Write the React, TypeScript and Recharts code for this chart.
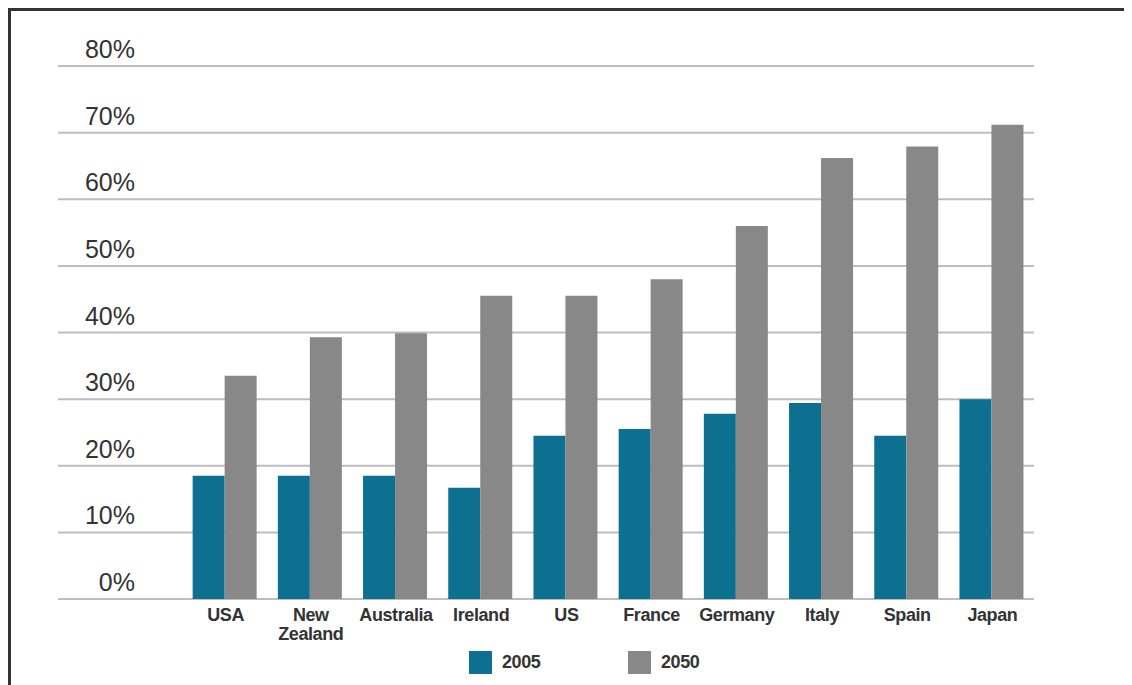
import { BarChart, Bar, XAxis, YAxis, CartesianGrid } from "recharts";

const countries = [
  "USA",
  "New Zealand",
  "Australia",
  "Ireland",
  "US",
  "France",
  "Germany",
  "Italy",
  "Spain",
  "Japan",
];
const values2005 = [18.5, 18.5, 18.5, 16.7, 24.5, 25.5, 27.8, 29.4, 24.5, 30.0];
const values2050 = [33.5, 39.3, 39.9, 45.5, 45.5, 48.0, 56.0, 66.2, 67.9, 71.2];
const yTicks = [0, 10, 20, 30, 40, 50, 60, 70, 80];

const TEAL = "#0d7090";
const GREY = "#888888";

const data = countries.map((c, i) => ({
  country: c,
  y2005: values2005[i],
  y2050: values2050[i],
}));

const YTick = (props: any) => {
  const { y, payload } = props;
  return (
    <text
      x={127}
      y={y - 8}
      textAnchor="end"
      fill="#333"
      fontSize={25}
      fontFamily="'Liberation Sans', Arial, sans-serif"
    >
      {payload.value}%
    </text>
  );
};

const XTick = (props: any) => {
  const { x, payload } = props;
  const label: string = payload.value;
  const lines = label.length > 10 ? label.split(" ") : [label];
  return (
    <text
      x={x + 1}
      y={591}
      textAnchor="middle"
      fill="#333"
      fontSize={18}
      fontWeight="bold"
      letterSpacing={-0.4}
      fontFamily="'Liberation Sans', Arial, sans-serif"
    >
      {lines.map((l, i) => (
        <tspan key={i} x={x + 1} dy={i === 0 ? 22 : 19}>
          {l}
        </tspan>
      ))}
    </text>
  );
};

const legendItems = [
  { name: "2005", color: TEAL, left: 461 },
  { name: "2050", color: GREY, left: 620 },
];

export default function App() {
  return (
    <div style={{ position: "relative", width: 1124, height: 677 }}>
      <BarChart
        width={1124}
        height={677}
        data={data}
        margin={{ top: 58, right: 98, bottom: 56, left: 0 }}
        barCategoryGap="12.5%"
        barGap={0}
      >
        <CartesianGrid vertical={false} stroke="#bdbdbd" strokeWidth={2} />
        <XAxis
          dataKey="country"
          height={30}
          axisLine={false}
          tickLine={false}
          interval={0}
          padding={{ left: 124, right: 0 }}
          tick={<XTick />}
        />
        <YAxis
          width={50}
          domain={[0, 80]}
          ticks={yTicks}
          axisLine={false}
          tickLine={false}
          tick={<YTick />}
        />
        <Bar dataKey="y2005" fill={TEAL} isAnimationActive={false} />
        <Bar dataKey="y2050" fill={GREY} isAnimationActive={false} />
      </BarChart>
      {legendItems.map((it) => (
        <div
          key={it.name}
          style={{
            position: "absolute",
            left: it.left,
            top: 643,
            display: "flex",
            alignItems: "center",
            fontFamily: "'Liberation Sans', Arial, sans-serif",
            fontWeight: "bold",
            fontSize: 18,
            color: "#333",
            letterSpacing: -0.4,
          }}
        >
          <span
            style={{
              display: "inline-block",
              width: 23,
              height: 23,
              background: it.color,
              marginRight: 10,
            }}
          />
          {it.name}
        </div>
      ))}
      <div
        style={{
          position: "absolute",
          left: 0,
          top: 0,
          width: 1124,
          height: 677,
          borderLeft: "3px solid #333",
          borderTop: "3px solid #333",
          boxSizing: "border-box",
          pointerEvents: "none",
        }}
      />
    </div>
  );
}
